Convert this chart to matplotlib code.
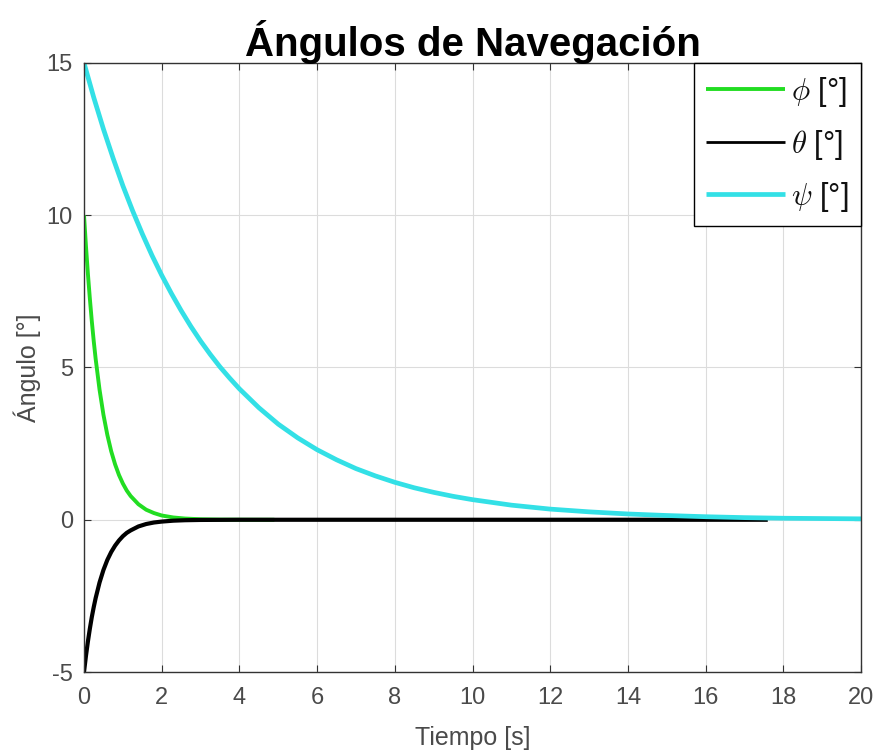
import matplotlib
matplotlib.use("Agg")
import matplotlib.pyplot as plt

# data
t_phi = [0, 0.05, 0.1, 0.15, 0.2, 0.25, 0.3, 0.4, 0.5, 0.6, 0.7, 0.8, 0.9, 1.0, 1.1, 1.2,
         1.4, 1.6, 1.8, 2.0, 2.3, 2.6, 3.0, 3.5, 4.0, 4.9]
phi = [10, 8.99, 8.08, 7.27, 6.53, 5.87, 5.28, 4.27, 3.45, 2.79, 2.25, 1.82, 1.47, 1.19, 0.96, 0.78,
       0.51, 0.33, 0.22, 0.14, 0.075, 0.04, 0.017, 0.006, 0.002, 0.0]

t_theta = [0, 0.05, 0.1, 0.15, 0.2, 0.25, 0.3, 0.4, 0.5, 0.6, 0.7, 0.8, 0.9, 1.0, 1.1, 1.2,
           1.4, 1.6, 1.8, 2.0, 2.3, 2.6, 3.0, 4.0, 5.0, 10.0, 17.6]
theta = [-5, -4.47, -4.0, -3.58, -3.2, -2.87, -2.57, -2.06, -1.65, -1.32, -1.06, -0.85, -0.68, -0.54, -0.43, -0.35,
         -0.22, -0.14, -0.09, -0.06, -0.03, -0.015, -0.006, 0.0, 0.0, 0.0, 0.0]

t_psi = [0, 0.25, 0.5, 0.75, 1, 1.25, 1.5, 1.75, 2, 2.25, 2.5, 2.75, 3, 3.25, 3.5, 3.75, 4,
         4.5, 5, 5.5, 6, 6.5, 7, 7.5, 8, 8.5, 9, 9.5, 10, 11, 12, 13, 14, 15, 16, 17, 18, 19, 20]
psi = [15, 13.87, 12.83, 11.87, 10.97, 10.15, 9.39, 8.68, 8.03, 7.43, 6.87, 6.35, 5.87, 5.43, 5.02, 4.65, 4.30,
       3.68, 3.14, 2.69, 2.30, 1.97, 1.68, 1.44, 1.23, 1.05, 0.90, 0.77, 0.66, 0.48, 0.35, 0.26, 0.19,
       0.14, 0.10, 0.07, 0.05, 0.04, 0.03]

labels = [r"$\phi$ [°]", r"$\theta$ [°]", r"$\psi$ [°]"]
colors = ["#22dd22", "#000000", "#33e0e6"]

x_ticks = list(range(0, 21, 2))
y_ticks = [-5, 0, 5, 10, 15]

plt.rcParams['font.family'] = ['Liberation Sans', 'DejaVu Sans']
plt.rcParams['mathtext.fontset'] = 'cm'
plt.rcParams['axes.unicode_minus'] = False

fig = plt.figure(figsize=(8.76, 7.55), dpi=100)
ax = fig.add_axes([0.0959, 0.1099, 0.8870, 0.8067])

kw = dict(solid_joinstyle="round", solid_capstyle="butt")
ax.plot(t_phi, phi, color=colors[0], lw=2.8, label=labels[0], **kw)
ax.plot(t_theta, theta, color=colors[1], lw=3.0, label=labels[1], **kw)
ax.plot(t_psi, psi, color=colors[2], lw=3.4, label=labels[2], **kw)

ax.set_xlim(0, 20)
ax.set_ylim(-5, 15)
ax.set_xticks(x_ticks)
ax.set_yticks(y_ticks)
ax.grid(True, color="#dcdcdc", lw=0.8)
ax.set_axisbelow(True)
ax.tick_params(direction="in", top=True, right=True, labelsize=17,
               labelcolor="#4a4a4a", length=5, color="#333333")
ax.tick_params(axis="x", pad=11)
ax.tick_params(axis="y", pad=8)
for s in ax.spines.values():
    s.set_color("#333333")
    s.set_linewidth(1.0)

ax.set_xlabel("Tiempo [s]", fontsize=18, color="#4a4a4a", labelpad=12)
ax.set_ylabel("Ángulo [°]", fontsize=18, color="#4a4a4a", labelpad=4)
ax.set_title("Ángulos de Navegación", fontsize=29, fontweight="bold", pad=5)

leg = ax.legend(loc="upper right", frameon=True, fancybox=False,
                borderaxespad=0, handlelength=2.6, handletextpad=0.2,
                borderpad=0.4, labelspacing=0.6,
                prop={'family': 'Liberation Sans', 'size': 22})
leg.get_frame().set_edgecolor("#000000")
leg.get_frame().set_linewidth(1.0)
leg.get_frame().set_alpha(1)
leg.get_lines()[1].set_linewidth(2.0)
for t in leg.get_texts():
    t.set_color("#111111")

fig.savefig("out.png", dpi=100)
